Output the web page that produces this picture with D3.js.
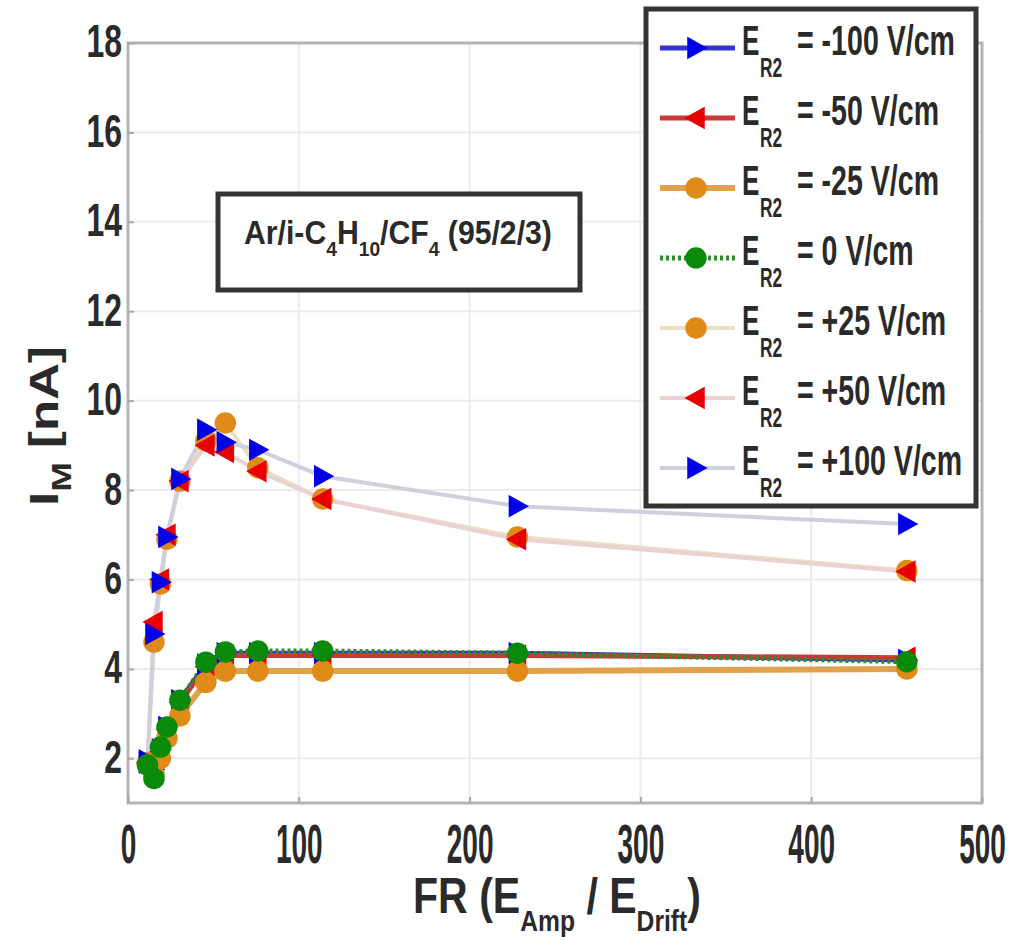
<!DOCTYPE html>
<html lang="en">
<head>
<meta charset="UTF-8">
<title>I_M vs FR</title>
<script src="https://d3js.org/d3.v7.min.js"></script>
<style>
  body { margin: 0; background: #fff; }
  svg text { font-family: "Liberation Sans", Arial, sans-serif; font-weight: bold; fill: #2a2a2a; }
</style>
</head>
<body>
<div id="chart"></div>
<script>
// field ratio values (same for every series)
const frValues = [11.4, 15.2, 19, 22.8, 30.4, 45.6, 57, 76, 114, 228, 456];

const seriesNames = ["-100", "-50", "-25", "0", "+25", "+50", "+100"];

// I_M [nA]
const imNeg100 = [1.95, 1.75, 2.2, 2.7, 3.3, 4.1, 4.35, 4.35, 4.35, 4.35, 4.2];
const imNeg50  = [1.9, 1.7, 2.15, 2.65, 3.25, 4.05, 4.3, 4.3, 4.3, 4.3, 4.25];
const imNeg25  = [1.85, 1.65, 2.0, 2.45, 2.95, 3.7, 3.95, 3.95, 3.95, 3.95, 4.0];
const imZero   = [1.85, 1.55, 2.25, 2.7, 3.3, 4.15, 4.38, 4.4, 4.4, 4.35, 4.16];
const imPos25  = [1.9, 4.6, 5.9, 6.9, 8.2, 9.1, 9.5, 8.5, 7.8, 6.95, 6.2];
const imPos50  = [1.9, 5.05, 6.0, 7.0, 8.2, 9.0, 8.85, 8.42, 7.8, 6.9, 6.18];
const imPos100 = [1.9, 4.78, 5.94, 6.95, 8.25, 9.35, 9.07, 8.9, 8.31, 7.64, 7.24];

const xTicks = [0, 100, 200, 300, 400, 500];
const yTicks = [2, 4, 6, 8, 10, 12, 14, 16, 18];

const W = 1028, H = 940;
const plotL = 128, plotR = 982, plotT = 43, plotB = 803;

const svg = d3.select("#chart").append("svg")
    .attr("width", W).attr("height", H);

const x = d3.scaleLinear().domain([0, 500]).range([plotL, plotR]);
const y = d3.scaleLinear().domain([1, 18]).range([plotB, plotT]);

// squeeze a text horizontally so it spans `width` px, anchored at (ax, ay)
function fit(t, ax, ay, width, rot) {
    const w = t.node().getBBox().width;
    t.attr("transform", `translate(${ax},${ay}) rotate(${rot || 0}) scale(${width / w},1)`);
}

// grid
svg.append("g").selectAll("line").data(yTicks).join("line")
    .attr("x1", plotL).attr("x2", plotR)
    .attr("y1", d => y(d)).attr("y2", d => y(d))
    .attr("stroke", "#ececec").attr("stroke-width", 2);
svg.append("g").selectAll("line").data(xTicks.slice(1, -1)).join("line")
    .attr("y1", plotT).attr("y2", plotB)
    .attr("x1", d => x(d)).attr("x2", d => x(d))
    .attr("stroke", "#ececec").attr("stroke-width", 2);

// frame
svg.append("rect")
    .attr("x", plotL).attr("y", plotT)
    .attr("width", plotR - plotL).attr("height", plotB - plotT)
    .attr("fill", "none").attr("stroke", "#b4b4b4").attr("stroke-width", 3);

// axes
const xAxis = svg.append("g")
    .attr("transform", `translate(0,${plotB})`)
    .call(d3.axisBottom(x).tickValues(xTicks).tickSize(-6));
const yAxis = svg.append("g")
    .attr("transform", `translate(${plotL},0)`)
    .call(d3.axisLeft(y).tickValues(yTicks).tickSize(-6));
[xAxis, yAxis].forEach(a => {
    a.select(".domain").remove();
    a.selectAll(".tick line").attr("stroke", "#aaa").attr("stroke-width", 2);
    a.selectAll(".tick text").attr("fill", "#2a2a2a")
        .style("font-family", "'Liberation Sans', Arial").style("font-weight", "bold");
});
xAxis.selectAll(".tick text")
    .attr("font-size", 56).attr("y", 0).attr("dy", 0)
    .attr("transform", "translate(0,60) scale(0.5,1)");
yAxis.selectAll(".tick text")
    .attr("font-size", 47).attr("x", 0).attr("dy", "0.34em")
    .attr("transform", "translate(-6,-2) scale(0.68,1)");

// series styles
const styles = [
    { name: "-100", data: imNeg100, line: "#3434c8", width: 5, dash: null, marker: "right", fill: "#0000e8" },
    { name: "-50",  data: imNeg50,  line: "#c83a3a", width: 5, dash: null, marker: "left",  fill: "#e80000" },
    { name: "-25",  data: imNeg25,  line: "#e0a24c", width: 6, dash: null, marker: "circle", fill: "#e08a18" },
    { name: "0",    data: imZero,   line: "#2e8b2e", width: 5, dash: "3,3", marker: "circle", fill: "#0a8a0a" },
    { name: "+25",  data: imPos25,  line: "#ecdfc4", width: 4, dash: null, marker: "circle", fill: "#e08a18" },
    { name: "+50",  data: imPos50,  line: "#ead2d2", width: 4, dash: null, marker: "left",  fill: "#e80000" },
    { name: "+100", data: imPos100, line: "#cfd0de", width: 4, dash: null, marker: "right", fill: "#0000e8" }
];

function markerPath(type, r) {
    if (type === "right") return `M${-r * 0.8},${-r}L${r},0L${-r * 0.8},${r}Z`;
    if (type === "left") return `M${r * 0.8},${-r}L${-r},0L${r * 0.8},${r}Z`;
    return d3.symbol().type(d3.symbolCircle).size(Math.PI * r * r)();
}

const line = d3.line().x(d => x(d[0])).y(d => y(d[1]));

// light lines first, then strong lines
const order = [4, 5, 6, 0, 1, 2, 3];
order.forEach(i => {
    const s = styles[i];
    const pts = frValues.map((f, k) => [f, s.data[k]]);
    svg.append("path").datum(pts)
        .attr("d", line).attr("fill", "none")
        .attr("stroke", s.line).attr("stroke-width", s.width)
        .attr("stroke-dasharray", s.dash);
});
order.forEach(i => {
    const s = styles[i];
    const pts = frValues.map((f, k) => [f, s.data[k]]);
    svg.append("g").selectAll("path").data(pts).join("path")
        .attr("transform", d => `translate(${x(d[0])},${y(d[1])})`)
        .attr("d", markerPath(s.marker, 10))
        .attr("fill", s.fill).attr("stroke", s.fill).attr("stroke-width", 1.5);
});

// annotation box
const ann = svg.append("g");
ann.append("rect").attr("x", 218).attr("y", 194).attr("width", 362).attr("height", 96)
    .attr("fill", "#fff").attr("stroke", "#333").attr("stroke-width", 5);
const annText = ann.append("text").attr("font-size", 33);
annText.append("tspan").text("Ar/i-C");
annText.append("tspan").attr("dy", 12).attr("font-size", 21).text("4");
annText.append("tspan").attr("dy", -12).text("H");
annText.append("tspan").attr("dy", 12).attr("font-size", 21).text("10");
annText.append("tspan").attr("dy", -12).text("/CF");
annText.append("tspan").attr("dy", 12).attr("font-size", 21).text("4");
annText.append("tspan").attr("dy", -12).text(" (95/2/3)");
fit(annText, 244, 244, 308);

// legend
const leg = svg.append("g");
leg.append("rect").attr("x", 646).attr("y", 9).attr("width", 330).attr("height", 497)
    .attr("fill", "#fff").attr("stroke", "#333").attr("stroke-width", 5);
styles.forEach((s, i) => {
    const cy = 48 + i * 70;
    leg.append("line").attr("x1", 660).attr("x2", 735).attr("y1", cy).attr("y2", cy)
        .attr("stroke", s.line).attr("stroke-width", s.width)
        .attr("stroke-dasharray", s.dash);
    leg.append("path").attr("transform", `translate(696,${cy})`)
        .attr("d", markerPath(s.marker, 10))
        .attr("fill", s.fill).attr("stroke", s.fill).attr("stroke-width", 1.5);
    leg.append("text").attr("font-size", 42)
        .attr("transform", `translate(742,${cy + 7}) scale(0.62,1)`).text("E");
    leg.append("text").attr("font-size", 28)
        .attr("transform", `translate(760,${cy + 29}) scale(0.62,1)`).text("R2");
    leg.append("text").attr("font-size", 42)
        .attr("transform", `translate(797,${cy + 7}) scale(0.68,1)`).text(`= ${s.name} V/cm`);
});

// axis titles
const yl = svg.append("text").attr("font-size", 40);
yl.append("tspan").text("I");
yl.append("tspan").attr("dy", 13).attr("font-size", 28).text("M");
yl.append("tspan").attr("dy", -13).text(" [nA]");
fit(yl, 58, 506, 160, -90);

const xl = svg.append("text").attr("font-size", 50);
xl.append("tspan").text("FR (E");
xl.append("tspan").attr("dy", 18).attr("font-size", 30).text("Amp");
xl.append("tspan").attr("dy", -18).text(" / E");
xl.append("tspan").attr("dy", 18).attr("font-size", 30).text("Drift");
xl.append("tspan").attr("dy", -18).text(")");
fit(xl, 413, 913, 288);
</script>
</body>
</html>
